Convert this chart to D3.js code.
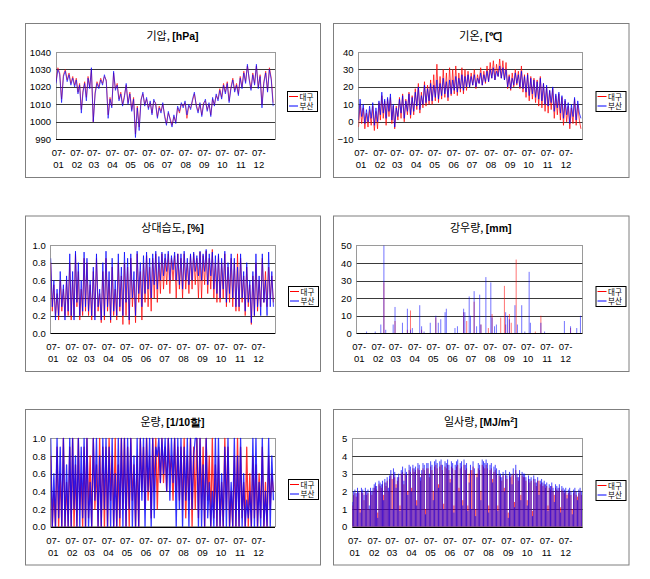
<!DOCTYPE html>
<html><head><meta charset="utf-8">
<script src="https://cdn.jsdelivr.net/npm/d3@7"></script>
<style>body{margin:0;background:#fff}</style>
</head><body>
<svg id="c" width="650" height="579"></svg>
<script>
// ---------- data ----------
const monthLabels = ["01","02","03","04","05","06","07","08","09","10","11","12"];
const monthStarts = [0,31,59,90,120,151,181,212,243,273,304,334,365];
const seriesNames = ["대구","부산"];
const seriesColors = ["#ff0000","#0000ff"];

// 기압 hPa, 10 readings per month
const pressureDaegu = [
1023,1031,1028,1013,1027,1030,1024,1028,1022,1026,
1021,1025,1017,1022,1007,1018,1023,1014,1026,1020,
1030,1000,1017,1023,1020,1025,1022,1026,1024,1004,
1014,1009,1028,1019,1022,1013,1017,1010,1015,1021,
1011,1017,1007,1014,993,1009,997,1013,1016,1010,
1013,1008,1011,1005,1012,1011,1003,1009,1006,1010,
1004,999,1005,1002,998,1003,1000,1008,1005,1010,
1009,1011,1002,1009,1008,1012,1016,1010,1006,1010,
1004,1011,1012,1007,1010,1004,1013,1010,1015,1013,
1019,1014,1022,1017,1023,1012,1020,1025,1018,1022,
1016,1026,1020,1029,1023,1032,1025,1019,1028,1022,
1032,1020,1027,1010,1023,1029,1018,1031,1025,1011];
const pressureBusan = [
1022,1030,1027,1011,1026,1029,1023,1027,1021,1025,
1020,1024,1016,1021,1005,1017,1022,1012,1025,1019,
1031,1000,1016,1022,1019,1024,1021,1027,1023,1002,
1013,1008,1029,1018,1021,1012,1016,1009,1014,1022,
1010,1016,1006,1013,991,1008,995,1012,1017,1009,
1014,1007,1012,1004,1013,1010,1002,1008,1005,1011,
1003,998,1006,1001,997,1004,999,1009,1006,1011,
1008,1012,1004,1010,1007,1013,1017,1009,1005,1011,
1003,1010,1013,1006,1011,1003,1014,1009,1016,1012,
1018,1013,1021,1016,1022,1011,1019,1024,1017,1021,
1015,1025,1019,1028,1022,1033,1024,1018,1027,1021,
1033,1019,1026,1008,1022,1028,1017,1030,1024,1009];

// 기온 ℃, 12 readings per month
const tempDaegu = [
-3,10,-1,8,-4,5,-3,7,-2,9,-5,6,
-4,11,1,15,2,12,-2,13,3,14,-1,9,
-4,9,1,14,2,16,0,13,4,17,2,15,
4,19,7,22,5,17,8,23,9,21,10,24,
10,27,12,33,11,26,13,30,14,28,12,31,
15,30,16,32,15,28,17,31,16,30,18,29,
20,28,21,30,19,27,22,31,21,29,22,32,
23,34,25,35,24,33,26,36,25,35,24,34,
19,27,18,28,20,30,21,29,19,32,17,27,
14,28,12,26,13,25,11,24,9,26,8,22,
6,20,5,18,7,19,2,15,4,16,1,14,
-2,12,0,9,-4,8,-1,13,-2,10,1,-4];
const tempBusan = [
1,13,3,10,-1,7,0,9,2,11,-2,8,
0,12,4,17,5,13,2,14,6,16,1,10,
-3,8,3,13,5,15,2,12,6,16,4,14,
6,17,9,20,7,15,10,21,11,19,12,22,
12,21,14,24,13,22,15,25,16,23,14,24,
16,24,18,26,17,25,19,27,18,26,20,27,
20,26,21,27,20,25,22,28,21,27,23,29,
23,30,25,31,24,29,26,32,25,31,24,30,
20,26,19,25,21,28,22,27,20,29,19,26,
17,27,15,25,16,24,14,23,13,25,12,22,
10,21,9,18,11,20,6,16,8,17,5,15,
2,13,4,11,-1,10,3,14,1,12,5,2];

// 상대습도, 12 readings per month
const humidDaegu = [
0.8,0.25,0.55,0.2,0.45,0.15,0.6,0.25,0.5,0.2,0.6,0.2,
0.8,0.15,0.6,0.2,0.9,0.3,0.7,0.15,0.5,0.2,0.85,0.25,
0.8,0.2,0.55,0.15,0.7,0.2,0.85,0.25,0.45,0.12,0.7,0.15,
0.85,0.25,0.6,0.12,0.75,0.2,0.5,0.15,0.8,0.25,0.65,0.1,
0.8,0.2,0.75,0.1,0.85,0.3,0.6,0.12,0.9,0.35,0.7,0.15,
0.8,0.35,0.88,0.3,0.75,0.25,0.85,0.4,0.9,0.35,0.8,0.45,
0.9,0.5,0.85,0.55,0.9,0.45,0.85,0.6,0.88,0.4,0.9,0.5,
0.85,0.4,0.9,0.5,0.8,0.45,0.88,0.5,0.9,0.55,0.85,0.4,
0.92,0.4,0.88,0.55,0.93,0.45,0.85,0.5,0.95,0.4,0.8,0.35,
0.88,0.35,0.8,0.4,0.9,0.3,0.75,0.35,0.85,0.3,0.8,0.25,
0.9,0.25,0.85,0.35,0.65,0.2,0.75,0.3,0.55,0.1,0.65,0.2,
0.8,0.25,0.6,0.3,0.85,0.35,0.7,0.3,0.75,0.4,0.65,0.35];
const humidBusan = [
0.85,0.3,0.6,0.15,0.5,0.2,0.7,0.3,0.55,0.15,0.65,0.25,
0.9,0.2,0.7,0.15,0.93,0.35,0.8,0.2,0.6,0.25,0.92,0.3,
0.85,0.25,0.6,0.2,0.75,0.15,0.9,0.3,0.5,0.15,0.8,0.2,
0.93,0.3,0.7,0.15,0.85,0.25,0.6,0.2,0.9,0.3,0.75,0.2,
0.92,0.35,0.85,0.15,0.9,0.4,0.7,0.2,0.93,0.45,0.8,0.3,
0.88,0.45,0.92,0.5,0.85,0.4,0.9,0.55,0.93,0.5,0.87,0.6,
0.92,0.65,0.9,0.7,0.93,0.6,0.88,0.72,0.92,0.6,0.9,0.55,
0.9,0.5,0.93,0.6,0.85,0.55,0.9,0.6,0.92,0.7,0.88,0.65,
0.93,0.6,0.9,0.7,0.95,0.55,0.9,0.65,0.92,0.5,0.88,0.45,
0.9,0.4,0.85,0.5,0.93,0.35,0.8,0.45,0.9,0.4,0.85,0.3,
0.75,0.3,0.9,0.4,0.7,0.25,0.8,0.35,0.6,0.12,0.7,0.2,
0.9,0.3,0.65,0.2,0.9,0.35,0.6,0.2,0.92,0.3,0.7,0.3];

// 강우량 mm (rain days, day of year)
const rainDaysDaegu = [44,62,82,87,105,128,173,178,190,201,213,219,233,239,241,247,250,258,289,298,346];
const rainMmDaegu   = [29,7,2,13,2,9,12,7,18,5,3,11,9,27,5,11,6,42,1,10,3];
const rainDaysBusan = [16,30,39,44,47,59,62,74,82,87,90,102,105,109,119,128,132,136,143,145,159,163,173,175,182,184,190,194,199,201,209,217,219,223,226,241,244,247,256,260,267,272,279,281,298,304,336,346,356,362];
const rainMmBusan   = [1,1,5,50,2,5,15,6,14,2,3,16,4,1,6,10,6,8,12,14,3,4,14,12,21,10,24,4,22,5,32,29,9,4,5,12,10,8,16,5,16,1,35,6,6,1,7,4,3,10];

// 운량 (1/10할), 12 readings per month
const cloudDaegu = [
0.8,0,0.4,0,0.9,0,0.6,0,1,0,0.5,0,
0.9,0,1,0,0.7,0,1,0.2,0.6,0,0.9,0,
1,0.1,0.8,0,1,0.2,0.7,0,1,0,0.9,0,
0.9,0,1,0.3,0.8,0,1,0,0.7,0,1,0.2,
1,0,0.9,0,1,0.3,0.7,0,0.8,0,1,0.4,
0.9,0.2,1,0.3,0.8,0.1,1,0.4,1,0.2,0.9,0.5,
1,0.5,0.9,0.4,1,0.6,0.8,0.3,1,0.4,0.9,0.3,
0.9,0.2,1,0.1,0.8,0.3,1,0,0.9,0.2,1,0.1,
1,0.2,0.9,0,1,0.3,0.8,0,1,0.1,0.7,0,
0.8,0,0.5,0,1,0.2,0.9,0,0.4,0,0.8,0,
1,0,0.9,0.1,0.5,0,0.9,0,0.6,0,0.8,0.1,
0.7,0,0.6,0.1,0.9,0,0.5,0,0.8,0.2,0.6,0.4];
const cloudBusan = [
1,0,0.6,0,1,0.1,0.9,0,1,0,0.7,0,
1,0,1,0.2,0.8,0,1,0,0.9,0.1,1,0,
1,0,0.5,0,1,0.3,1,0,0.8,0,1,0.2,
1,0,0.9,0,1,0,0.6,0,1,0.1,1,0,
1,0,1,0.2,1,0,0.8,0,1,0,1,0.3,
1,0,1,0.4,1,0,1,0.1,0.9,0.8,1,0.5,
1,0.6,1,0.4,1,0.3,1,0.5,1,0,1,0.2,
1,0,0.9,0.3,1,0,1,0.2,0.8,1,1,0,
1,0,0.7,0,1,0.1,0.5,0,0.4,0,1,0,
1,0,0.6,0,0.9,0,1,0,0.5,0,1,0,
0.8,0,1,0,0.6,0,0.3,0.1,0.4,0,1,0,
1,0,0.5,0,1,0,0.4,0,1,0,0.8,0.3];

// 일사량 MJ/m², daily peaks, 15 per month
const solarDaegu = [
1.2,1.8,1.9,1.7,2.0,1.9,1.0,2.0,1.9,1.5,2.0,1.8,1.9,1.0,2.0,
1.8,2.0,2.2,2.3,2.1,0.8,2.4,2.3,2.2,2.4,1.8,2.5,2.3,2.6,2.0,
2.7,2.9,2.7,3.0,2.8,2.4,2.6,2.8,1.2,3.0,3.1,2.4,3.0,2.9,2.0,
3.2,3.1,2.2,3.3,3.1,3.2,1.5,3.3,3.2,2.6,3.0,3.3,3.2,1.0,3.3,
3.3,2.8,3.4,3.2,2.0,3.4,3.5,3.3,2.4,3.4,3.5,3.2,1.3,3.4,3.3,
3.5,3.2,2.7,3.4,3.3,1.2,3.2,3.4,3.5,2.2,3.3,3.4,1.5,3.5,3.2,
3.3,1.2,3.0,3.2,3.2,3.4,3.0,1.0,3.0,3.3,3.2,2.0,3.5,3.4,3.3,
3.5,3.3,1.2,3.2,3.3,2.7,3.1,3.2,3.0,1.2,2.9,2.8,2.6,2.9,2.2,
2.9,2.7,0.8,2.9,2.8,2.9,3.0,1.4,3.2,2.8,2.6,3.0,1.8,2.9,2.8,
2.8,2.6,1.5,2.7,2.5,2.6,0.9,2.7,2.5,2.3,2.6,2.6,2.4,2.5,2.3,
2.4,2.2,2.3,1.2,2.2,2.1,2.3,2.0,1.8,2.2,2.1,2.0,2.2,1.1,2.1,
2.0,1.9,2.0,1.8,1.9,2.0,1.8,1.0,1.9,2.0,1.8,1.7,1.9,2.0,1.8];
const solarBusan = [
1.4,2.0,2.1,1.9,2.2,2.0,0.8,2.2,2.1,1.8,2.2,2.0,2.1,1.2,2.2,
2.0,2.2,2.4,2.5,2.3,0.5,2.6,2.5,2.4,2.6,1.5,2.7,2.5,2.8,2.2,
2.9,3.2,1.0,3.3,3.1,2.2,2.8,3.0,0.9,3.2,3.4,2.6,3.3,3.1,1.8,
3.5,3.4,2.0,3.5,3.3,3.4,1.2,3.6,3.5,2.8,3.2,3.6,3.5,0.7,3.6,
3.6,3.0,3.7,3.5,1.5,3.7,3.8,3.6,2.2,3.7,3.8,3.5,1.0,3.7,3.6,
3.8,3.5,2.5,3.7,3.6,0.8,3.5,3.7,3.8,2.0,3.6,3.7,1.2,3.8,3.5,
3.6,0.9,2.5,3.5,1.0,3.7,3.3,0.6,2.8,3.6,3.5,1.5,3.8,3.7,3.6,
3.8,3.6,0.8,3.5,3.6,2.5,3.4,3.5,3.3,0.9,3.2,3.0,2.8,3.1,2.0,
3.2,2.9,0.5,3.1,3.0,2.4,3.3,1.1,3.5,3.0,2.8,3.2,1.5,3.1,3.0,
3.0,2.8,1.2,2.9,2.7,2.8,0.6,2.9,2.7,2.5,2.8,1.8,2.6,2.7,2.5,
2.6,2.4,2.5,0.9,2.4,2.3,2.5,2.2,1.4,2.4,2.3,2.2,2.4,0.8,2.3,
2.2,2.1,2.2,1.6,2.1,2.2,2.0,0.7,2.1,2.2,2.0,1.5,2.1,2.2,2.0];

// ---------- helpers ----------
function dayOf(i, perMonth){
  const m = Math.floor(i/perMonth), k = i % perMonth;
  return monthStarts[m] + k*(monthStarts[m+1]-monthStarts[m])/perMonth;
}

const panels = [
 {title:["기압, ","[hPa]"], box:[25,23,320,177], plot:[56,52,275,139.3], legend:[287,91],
  domain:[990,1040], ticks:[990,1000,1010,1020,1030,1040], fmt:d3.format("d"),
  kind:"line", per:10, sw:0.8, data:[pressureDaegu, pressureBusan]},
 {title:["기온, ","[℃]"], box:[333,23,628.5,177], plot:[358.5,52,582.5,139.3], legend:[595.5,91],
  domain:[-10,40], ticks:[-10,0,10,20,30,40], fmt:d3.format("d"),
  kind:"line", per:12, sw:0.9, data:[tempDaegu, tempBusan]},
 {title:["상대습도, ","[%]"], box:[25,215.5,320,371], plot:[50.7,245,275,333.3], legend:[288,286],
  domain:[0,1], ticks:[0,0.2,0.4,0.6,0.8,1.0], fmt:d3.format(".1f"),
  kind:"line", per:12, sw:0.9, data:[humidDaegu, humidBusan]},
 {title:["강우량, ","[mm]"], box:[333,215.5,628.5,371], plot:[356.7,245.5,582.3,333.3], legend:[595.5,286],
  domain:[0,50], ticks:[0,10,20,30,40,50], fmt:d3.format("d"),
  kind:"rain", data:[[rainDaysDaegu,rainMmDaegu],[rainDaysBusan,rainMmBusan]]},
 {title:["운량, ","[1/10할]"], box:[25,409,320,564.5], plot:[50.7,438.3,275,526.7], legend:[288,479],
  domain:[0,1], ticks:[0,0.2,0.4,0.6,0.8,1.0], fmt:d3.format(".1f"),
  kind:"line", per:12, sw:1.3, data:[cloudDaegu, cloudBusan]},
 {title:["일사량, ","[MJ/m","2","]"], box:[333,409,628.5,564.5], plot:[352.3,438.3,582.7,526.7], legend:[595.5,480],
  domain:[0,5], ticks:[0,1,2,3,4,5], fmt:d3.format("d"),
  kind:"spike", per:15, data:[solarDaegu, solarBusan]}
];

const svg = d3.select("#c");
const numFont = "'Liberation Sans', Arial, sans-serif";
const korFont = "'Noto Sans CJK KR', 'Noto Sans', sans-serif";

panels.forEach(p => {
  const [bx0,by0,bx1,by1] = p.box;
  const [px0,py0,px1,py1] = p.plot;
  const g = svg.append("g");
  g.append("rect").attr("x",bx0+0.5).attr("y",by0+0.5).attr("width",bx1-bx0).attr("height",by1-by0)
   .attr("fill","#fff").attr("stroke","#7f7f7f").attr("stroke-width",1);

  const x = d3.scaleLinear().domain([0,365]).range([px0,px1]);
  const y = d3.scaleLinear().domain(p.domain).range([py1,py0]);

  g.append("rect").attr("x",px0).attr("y",py0).attr("width",px1-px0).attr("height",py1-py0)
   .attr("fill","none").attr("stroke","#9a9a9a").attr("stroke-width",1).attr("shape-rendering","crispEdges");
  g.selectAll(".grid").data(p.ticks.slice(1,-1)).join("line")
   .attr("x1",px0).attr("x2",px1).attr("y1",d=>Math.round(y(d))+0.5).attr("y2",d=>Math.round(y(d))+0.5)
   .attr("stroke","#3a3a3a").attr("stroke-width",1);

  const cx = (bx0+bx1)/2;
  const t = g.append("text").attr("x",cx).attr("y",by0+16.5).attr("text-anchor","middle")
   .attr("font-size",11).attr("fill","#000");
  t.append("tspan").attr("font-family",korFont).text(p.title[0]);
  t.append("tspan").attr("font-family",numFont).attr("font-weight","bold").attr("font-size",10.5).text(p.title[1]);
  if (p.title.length > 2) {
    t.append("tspan").attr("font-family",numFont).attr("font-weight","bold").attr("font-size",7).attr("dy",-4).text(p.title[2]);
    t.append("tspan").attr("font-family",numFont).attr("font-weight","bold").attr("font-size",10.5).attr("dy",4).text(p.title[3]);
  }

  const clipId = "clip"+Math.round(px0)+Math.round(py0);
  g.append("clipPath").attr("id",clipId).append("rect").attr("x",px0).attr("y",py0-1).attr("width",px1-px0).attr("height",py1-py0+1);
  const sg = g.append("g").attr("clip-path",`url(#${clipId})`);
  p.data.forEach((s,si) => {
    const col = seriesColors[si];
    if (p.kind === "line") {
      const line = d3.line().x((d,i)=>x(dayOf(i,p.per))).y(d=>y(d));
      sg.append("path").attr("d",line(s)).attr("fill","none").attr("stroke",col)
        .attr("stroke-width",p.sw).attr("stroke-opacity",0.8).attr("stroke-linejoin","round");
    } else if (p.kind === "rain") {
      const [days, mm] = s;
      sg.append("path").attr("d", days.map((dd,i)=>`M${x(dd)},${y(0)}V${y(mm[i])}`).join(""))
        .attr("stroke",col).attr("stroke-width",1).attr("stroke-opacity",0.55).attr("fill","none");
    } else {
      sg.append("path").attr("d", s.map((v,i)=>`M${x(dayOf(i,p.per))},${y(0)}V${y(v)}`).join(""))
        .attr("stroke",col).attr("stroke-width",1).attr("stroke-opacity",0.72).attr("fill","none");
    }
  });

  g.append("line").attr("x1",px0).attr("x2",px1).attr("y1",Math.round(y(p.domain[0]))+0.5).attr("y2",Math.round(y(p.domain[0]))+0.5)
   .attr("stroke","#000");

  const ya = g.append("g").attr("transform",`translate(${px0},0)`)
    .call(d3.axisLeft(y).tickValues(p.ticks).tickFormat(p.fmt).tickSize(0).tickPadding(5));
  ya.select(".domain").remove();
  ya.selectAll("text").attr("font-family",numFont).attr("font-size",9.5).attr("fill","#000");

  const xa = g.append("g").attr("transform",`translate(0,${py1})`)
    .call(d3.axisBottom(x).tickValues(monthStarts.slice(0,12)).tickSize(0).tickFormat((d,i)=>monthLabels[i]));
  xa.select(".domain").remove();
  xa.selectAll("text").each(function(d,i){
    const el = d3.select(this);
    el.text(null).attr("font-family",numFont).attr("font-size",9.5).attr("fill","#000").attr("y",0).attr("dy",null);
    el.append("tspan").attr("x",2).attr("y",17).text("07-");
    el.append("tspan").attr("x",2).attr("y",29).text(monthLabels[i]);
  });

  const [lx,ly] = p.legend;
  const lg = g.append("g").attr("transform",`translate(${lx},${ly})`);
  lg.append("rect").attr("x",0.5).attr("y",0.5).attr("width",30).attr("height",20).attr("fill","#fff").attr("stroke","#000");
  seriesNames.forEach((n,i)=>{
    const yy = 5.5 + i*9.5;
    lg.append("line").attr("x1",2).attr("x2",11).attr("y1",yy).attr("y2",yy).attr("stroke",seriesColors[i]).attr("stroke-width",1);
    lg.append("text").attr("x",12.5).attr("y",yy+3).attr("font-size",7.5).attr("font-family",korFont).text(n);
  });
});
</script>
</body></html>
